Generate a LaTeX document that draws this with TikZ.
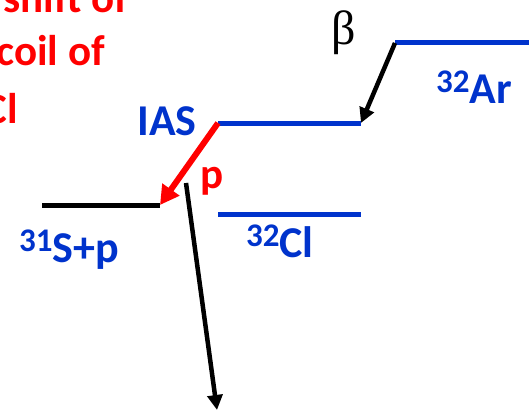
\documentclass[tikz,border=0pt]{standalone}
\usepackage{fontspec}
\setmainfont{Carlito}
\newfontfamily\betafont{Liberation Serif}
\usetikzlibrary{arrows.meta}
\definecolor{levelblue}{HTML}{0033CC}
\definecolor{protonred}{HTML}{FF0000}
\tikzset{
    level/.style={line width=5pt,line cap=butt},
    lvlname/.style={text=levelblue,font=\fontsize{44}{44}\selectfont\bfseries,
      inner sep=0pt,anchor=base},
    notetext/.style={text=protonred,font=\fontsize{43}{43}\selectfont\bfseries,
      inner sep=0pt,anchor=base east},
    decayarrow/.style={-{Triangle[length=15pt,width=15pt]},line width=4.5pt,black},
    protonarrow/.style={-{Triangle[length=19pt,width=20pt]},line width=6pt,protonred}
}
\newcommand{\nucl}[2]{\raisebox{11pt}{\fontsize{33}{33}\selectfont #1}#2}

\begin{document}
\begin{tikzpicture}[x=1pt,y=-1pt]
  \useasboundingbox (0,0) rectangle (529,412);
  \clip (0,0) rectangle (529,412);
  % level ends
  \coordinate (ar-l) at (395,43);  \coordinate (ar-r) at (535,43);
  \coordinate (ias-l) at (218,123); \coordinate (ias-r) at (361,123);
  \coordinate (cl-l) at (218,214);  \coordinate (cl-r) at (361,214);
  \coordinate (sp-l) at (42,205);   \coordinate (sp-r) at (160,205);
  \coordinate (gam-s) at (186,183); \coordinate (gam-e) at (217,410);
  % levels
  \draw[level,levelblue] (ar-l) -- (ar-r);
  \draw[level,levelblue] (ias-l) -- (ias-r);
  \draw[level,levelblue] (cl-l) -- (cl-r);
  \draw[level,black] (sp-l) -- (sp-r);
  % labels
  \node[lvlname] (ar) at (474,103) {\nucl{32}{Ar}};
  \node[lvlname] (ias) at (167,135) {IAS};
  \node[lvlname] (cl) at (280,257) {\nucl{32}{Cl}};
  \node[lvlname] (sp) at (69,262) {\nucl{31}{S+p}};
  \node[inner sep=0pt,font=\fontsize{48}{48}\selectfont\betafont] (beta) at (344,33) {β};
  \node[notetext,anchor=base] (p) at (212,188) {p};
  % cut-off note
  \node[notetext] (note1) at (128,13) {shift of};
  \node[notetext] (note2) at (105,65) {coil of};
  \node[notetext] (note3) at (18,123) {Cl};
  % transitions
  \draw[decayarrow] (ar-l) -- (ias-r);
  \draw[protonarrow] (ias-l) -- (sp-r);
  \draw[decayarrow] (gam-s) -- (gam-e);
\end{tikzpicture}
\end{document}
